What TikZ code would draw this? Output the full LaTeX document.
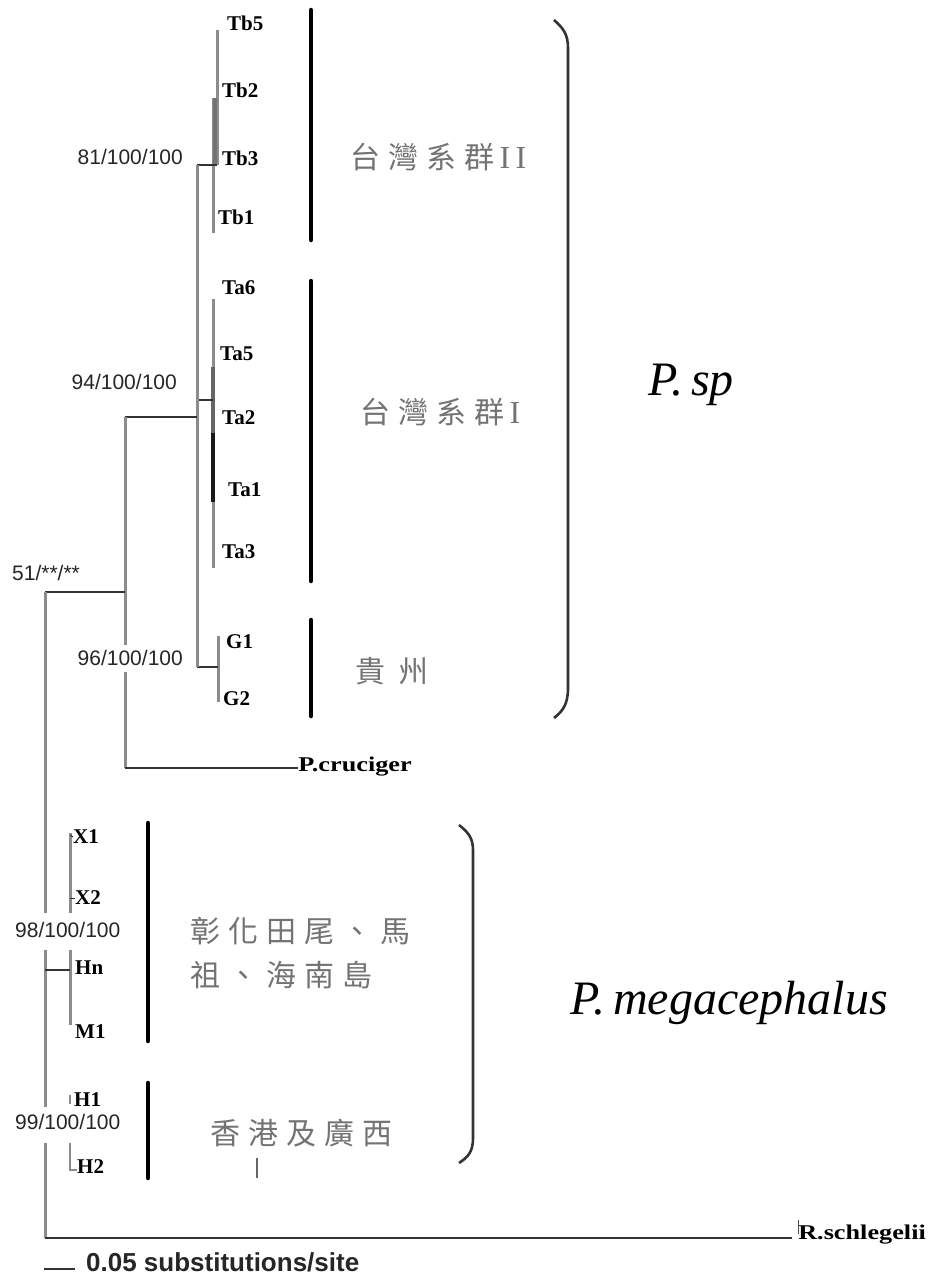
\documentclass[tikz,border=0pt]{standalone}
\usepackage{fontspec}
\setmainfont{Liberation Serif}
\setsansfont{Liberation Sans}
\newfontfamily\cjk{Noto Sans CJK TC}
\newcommand\cg{\hspace{8pt}}
\begin{document}
\begin{tikzpicture}[x=1pt,y=-1pt,
  br/.style={line width=3pt,draw=black!45},
  hb/.style={line width=2pt,draw=black!80},
  bar/.style={line width=4.5pt,draw=black,line cap=round},
  brace/.style={line width=2.6pt,draw=black!80},
  leaf/.style={anchor=west,inner sep=0pt,font=\fontsize{21}{23}\selectfont\bfseries},
  wideleaf/.style={leaf,xscale=1.25},
  sup/.style={inner sep=0pt,font=\sffamily\fontsize{21}{23}\selectfont,text=black!85},
  region/.style={inner sep=0pt,text=black!55,font=\cjk\fontsize{30}{44}\selectfont,align=left},
  species/.style={inner sep=0pt,font=\itshape\fontsize{48}{52}\selectfont}]
\useasboundingbox (0,0) rectangle (936,1275);
\fill[white] (0,0) rectangle (936,1275);

% ---- leaf labels ----
\node[leaf] (tb5) at (227,23) {Tb5};
\node[leaf] (tb2) at (222,90) {Tb2};
\node[leaf] (tb3) at (222,158) {Tb3};
\node[leaf] (tb1) at (218,217) {Tb1};
\node[leaf] (ta6) at (222,288) {Ta6};
\node[leaf] (ta5) at (220,354) {Ta5};
\node[leaf] (ta2) at (222,418) {Ta2};
\node[leaf] (ta1) at (228,490) {Ta1};
\node[leaf] (ta3) at (222,552) {Ta3};
\node[leaf] (g1) at (226,642) {G1};
\node[leaf] (g2) at (223,699) {G2};
\node[wideleaf] (pcru) at (298,767) {P.cruciger};
\node[leaf] (x1) at (73,837) {X1};
\node[leaf] (x2) at (75,898) {X2};
\node[leaf] (hn) at (75,968) {Hn};
\node[leaf] (m1) at (75,1032) {M1};
\node[leaf] (h1) at (74,1100) {H1};
\node[leaf] (h2) at (77,1167) {H2};
\node[wideleaf] (rsch) at (798,1235) {R.schlegelii};

% ---- internal nodes ----
\coordinate (nTb) at (217,165);
\coordinate (nTa) at (213,400);
\coordinate (nG) at (218,667);
\coordinate (nTw) at (197,417);
\coordinate (nSp) at (125,592);
\coordinate (nRoot) at (45,1238);
\coordinate (nMega) at (70,970);

% Tb clade
\draw[br] (217,30) -- (nTb);
\draw[br] (213,98) -- (213,233);
\draw[br,line width=4pt,draw=black!55] (215,98) -- (215,165);
\draw[hb] (197,165) -- (nTb);
% Ta clade
\draw[br] (213,299) -- (213,568);
\draw[line width=4pt,draw=black!60] (213,367) -- (213,433);
\draw[line width=4pt,draw=black!90] (213,433) -- (213,502);
\draw[hb] (197,400) -- (nTa);
% G clade
\draw[br] (218,636) -- (218,702);
\draw[hb] (197,667) -- (nG);
% Taiwan + Guizhou
\draw[br] (197,165) -- (197,667);
\draw[hb] (125,417) -- (nTw);
% P. sp + P. cruciger
\draw[br] (125,417) -- (125,645);
\draw[br] (125,672) -- (125,768);
\draw[hb] (125,768) -- (pcru.west |- 0,768);
\draw[hb] (45,592) -- (nSp);
% root
\draw[br] (45,592) -- (45,913);
\draw[br] (45,950) -- (45,1107);
\draw[br] (45,1143) -- (nRoot);
\draw[hb] (nRoot) -- (792,1238);
\draw[line width=1pt,draw=black!70] (rsch.west |- 0,1220) -- (rsch.west |- 0,1234);
% P. megacephalus
\draw[br] (70,833) -- (70,913);
\draw[hb,line width=1pt] (70,835) -- (x1.west);
\draw[hb,line width=1pt] (70,898) -- (x2.west);
\draw[br] (70,950) -- (70,1025);
\draw[hb] (45,970) -- (nMega);
\draw[br,line width=1.6pt] (70,1095) -- (70,1104);
\draw[br,line width=1.8pt] (70,1143) -- (70,1170) -- (h2.west |- 0,1170);

% ---- support values ----
\node[sup,anchor=east] (s81) at (183,157) {81/100/100};
\node[sup,anchor=east] (s94) at (177,382) {94/100/100};
\node[sup,anchor=west] (s51) at (12,573) {51/**/**};
\node[sup,anchor=east] (s96) at (183,658) {96/100/100};
\node[sup,anchor=west] (s98) at (15,930) {98/100/100};
\node[sup,anchor=west] (s99) at (15,1122) {99/100/100};

% ---- group bars ----
\draw[bar] (311,10) -- (311,240);
\draw[bar] (311,281) -- (311,581);
\draw[bar] (311,620) -- (311,716);
\draw[bar] (148,823) -- (148,1041);
\draw[bar] (148,1083) -- (148,1178);

% ---- region names ----
\node[region,anchor=west] (rTb) at (350,157) {台\cg 灣\cg 系\cg 群{\rmfamily\fontsize{32}{32}\selectfont\,I\,I}};
\node[region,anchor=west] (rTa) at (360,412) {台\cg 灣\cg 系\cg 群{\rmfamily\fontsize{32}{32}\selectfont\,I}};
\node[region,anchor=west] (rG) at (355,671) {貴\hspace{13pt}州};
\node[region,anchor=west] (rM) at (190,953) {彰\cg 化\cg 田\cg 尾\cg 、\cg 馬\\祖\cg 、\cg 海\cg 南\cg 島};
\node[region,anchor=west] (rH) at (210,1133) {香\cg 港\cg 及\cg 廣\cg 西};
\draw[line width=1.2pt,draw=black!60] (257,1158) -- (257,1178);

% ---- species brackets ----
\draw[brace] (554,20) .. controls (563,28) and (568,34) .. (568,48) -- (568,688) .. controls (568,704) and (563,711) .. (554,718);
\draw[brace] (459,825) .. controls (468,832) and (473,838) .. (473,850) -- (473,1138) .. controls (473,1152) and (468,1157) .. (459,1163);
\node[species] (psp) at (691,385) {P.\,sp};
\node[species] (pmeg) at (729,1003) {P.\,megacephalus};

% ---- scale bar ----
\coordinate (sb1) at (44,1269);
\coordinate (sb2) at (75,1269);
\draw[line width=2pt,draw=black!80] (sb1) -- (sb2);
\node[anchor=west,inner sep=0pt,font=\sffamily\bfseries\fontsize{26}{28}\selectfont,text=black!85] (sbl) at (86,1262) {0.05 substitutions/site};
\end{tikzpicture}
\end{document}
